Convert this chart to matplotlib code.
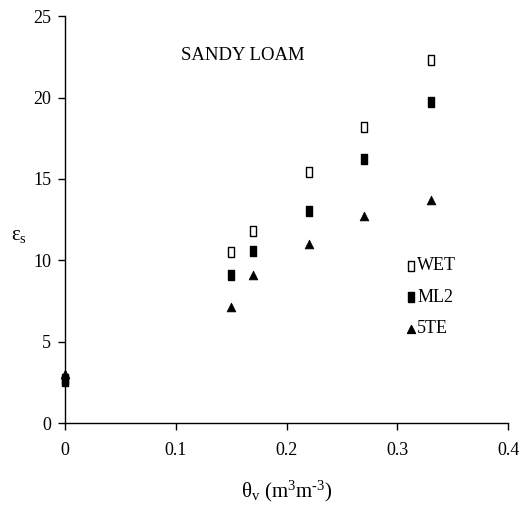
import matplotlib
matplotlib.use("Agg")
import matplotlib.pyplot as plt

plt.rcParams['font.family'] = ['Liberation Serif', 'DejaVu Serif']
plt.rcParams['mathtext.fontset'] = 'custom'
plt.rcParams['mathtext.rm'] = 'Liberation Serif'
plt.rcParams['mathtext.it'] = 'Liberation Serif:italic'

# Volumetric water content (m3 m-3) and permittivity readings per sensor
theta = [0.0, 0.15, 0.17, 0.22, 0.27, 0.33]
wet = [2.7, 10.5, 11.8, 15.4, 18.2, 22.3]
ml2 = [2.6, 9.1, 10.6, 13.0, 16.2, 19.7]
te5 = [3.0, 7.1, 9.1, 11.0, 12.7, 13.7]

x_ticks = [0, 0.1, 0.2, 0.3, 0.4]
x_tick_labels = ['0', '0.1', '0.2', '0.3', '0.4']
y_ticks = [0, 5, 10, 15, 20, 25]

# tall rectangle marker
rect = [(-0.33, -0.5), (0.33, -0.5), (0.33, 0.5), (-0.33, 0.5), (-0.33, -0.5)]

fig = plt.figure(figsize=(5.25, 5.21), dpi=100)
ax = fig.add_axes([0.124, 0.188, 0.844, 0.781])

ax.scatter(theta, wet, marker=rect, s=58, facecolor='white', edgecolor='black',
           linewidth=1.0, zorder=3, clip_on=False)
ax.scatter(theta, ml2, marker=rect, s=58, facecolor='black', edgecolor='black',
           linewidth=1.0, zorder=4, clip_on=False)
ax.scatter(theta, te5, marker='^', s=40, facecolor='black', edgecolor='black',
           linewidth=0.5, zorder=5, clip_on=False)

ax.set_xlim(0, 0.4)
ax.set_ylim(0, 25)
ax.set_xticks(x_ticks)
ax.set_xticklabels(x_tick_labels)
ax.set_yticks(y_ticks)

for side in ('top', 'right'):
    ax.spines[side].set_visible(False)
for side in ('left', 'bottom'):
    ax.spines[side].set_linewidth(1.0)

ax.tick_params(axis='x', direction='out', length=5, width=1, pad=9, labelsize=13)
ax.tick_params(axis='y', direction='out', length=5, width=1, pad=5, labelsize=13)

ax.set_xlabel(r'θ$_{\rm v}$ (m$^{\rm 3}$m$^{\text{-3}}$)', fontsize=15, labelpad=14)
ax.set_ylabel(r'ε$_{\rm s}$', fontsize=15, rotation=0, va='center', ha='center')
ax.yaxis.set_label_coords(-0.104, 0.462)

ax.text(0.105, 22.6, 'SANDY LOAM', fontsize=13.5, ha='left', va='center')

# legend entries drawn inside the plot area
leg_x = 0.3125
leg_rows = [(9.65, 'WET', rect, 'white', 45), (7.74, 'ML2', rect, 'black', 45),
            (5.78, '5TE', '^', 'black', 32)]
for y, label, mk, fc, sz in leg_rows:
    ax.scatter([leg_x], [y], marker=mk, s=sz, facecolor=fc, edgecolor='black',
               linewidth=1.0, zorder=5)
    ax.text(leg_x + 0.0055, y, label, fontsize=13, ha='left', va='center')

fig.savefig('out.png', dpi=100)
